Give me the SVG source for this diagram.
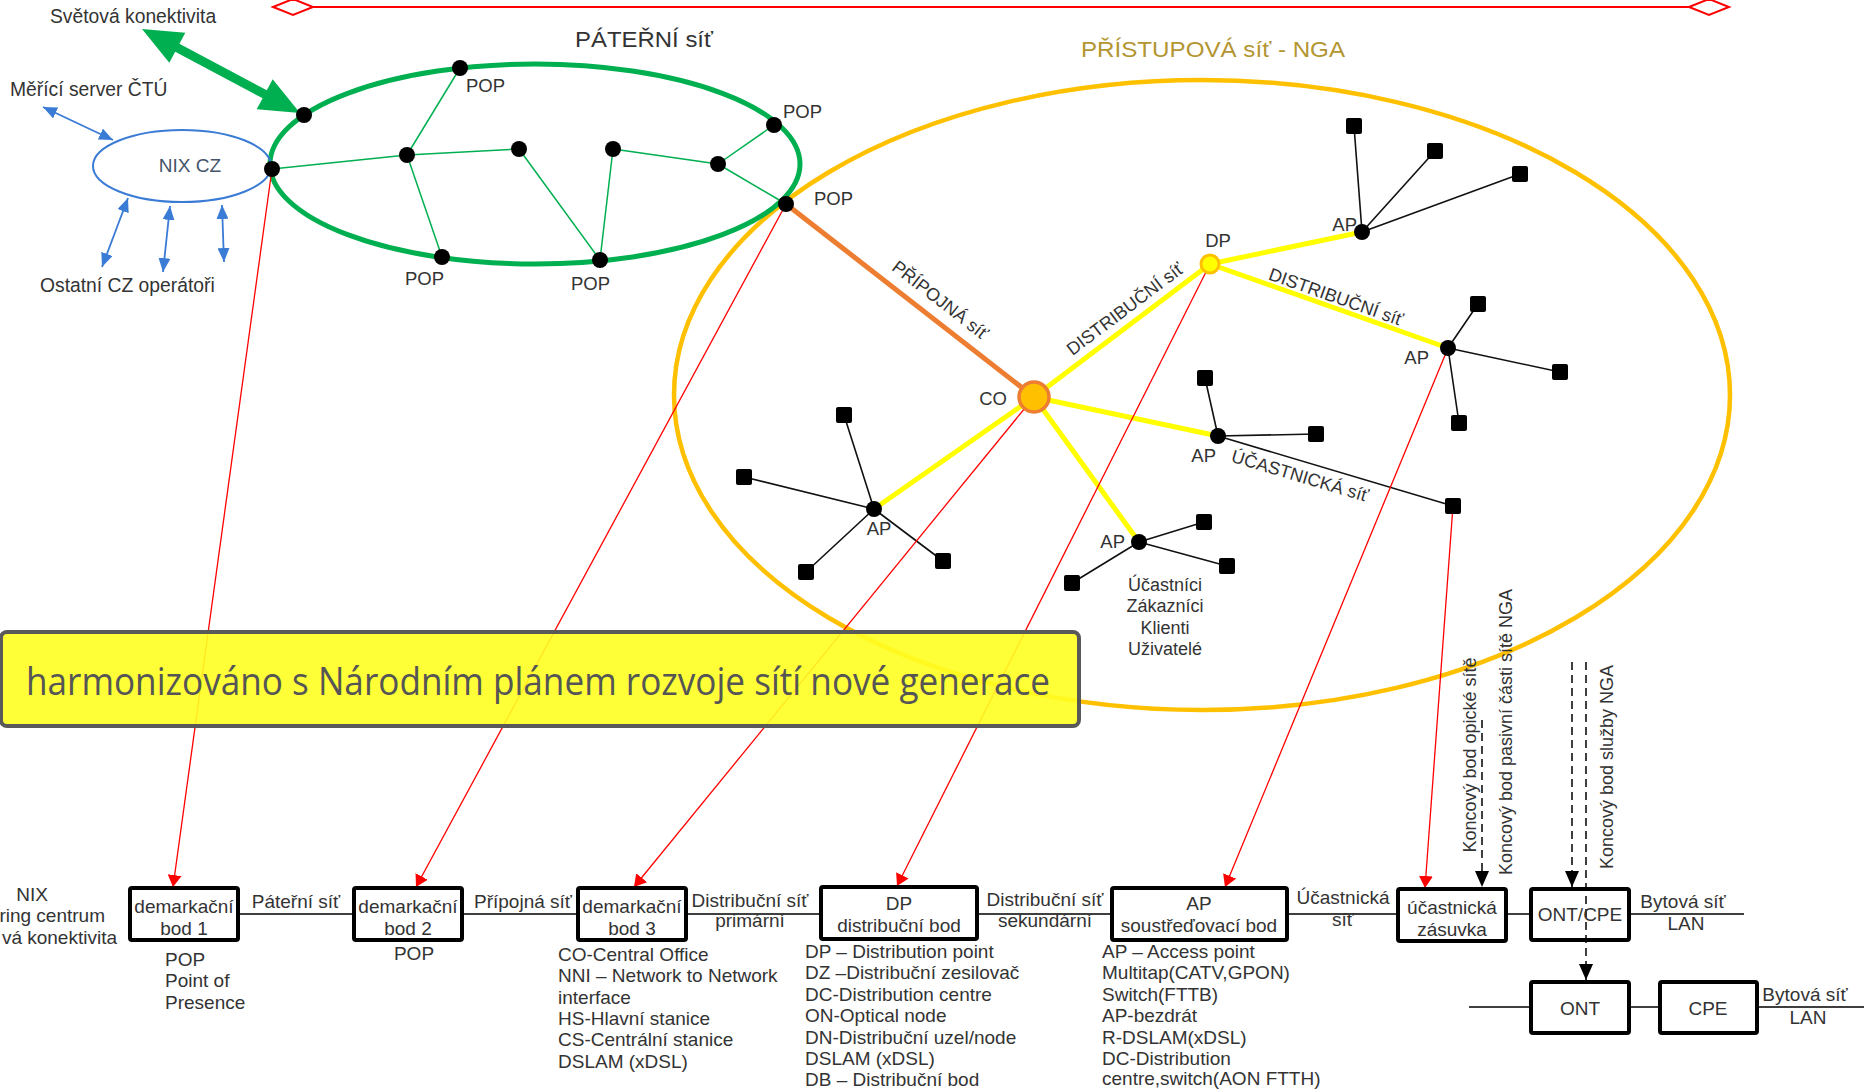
<svg xmlns="http://www.w3.org/2000/svg" width="1864" height="1091" viewBox="0 0 1864 1091">
<style>
text{font-family:"Liberation Sans",Arial,sans-serif;fill:#333;font-size:19px}
.c{text-anchor:middle}
.e{text-anchor:end}
.g{stroke:#00b050;stroke-width:1.5;fill:none}
.k{stroke:#111;stroke-width:1.6;fill:none}
.y{stroke:#ffff00;stroke-width:5;fill:none}
.r{stroke:#ff0000;stroke-width:1.3;fill:none;marker-end:url(#ra)}
.b{stroke:#3a7bd5;stroke-width:1.8;fill:none;marker-start:url(#ba);marker-end:url(#ba)}
.d{stroke:#000;stroke-width:1.5;stroke-dasharray:8 5;fill:none}
.n{fill:#000}
.box{fill:#fff;stroke:#000;stroke-width:4}
.ln{stroke:#000;stroke-width:1.5;fill:none}
.t{font-size:19.3px}
</style>
<defs>
<marker id="ra" viewBox="0 0 12 14" refX="12" refY="7" markerWidth="12" markerHeight="14" markerUnits="userSpaceOnUse" orient="auto" preserveAspectRatio="none"><path d="M0,0 L12,7 L0,14 z" fill="#ff0000"/></marker>
<marker id="ba" viewBox="0 0 14 12" refX="14" refY="6" markerWidth="14" markerHeight="12" markerUnits="userSpaceOnUse" orient="auto-start-reverse" preserveAspectRatio="none"><path d="M0,0 L14,6 L0,12 z" fill="#3a7bd5"/></marker>
<marker id="ka" viewBox="0 0 16 14" refX="16" refY="7" markerWidth="16" markerHeight="14" markerUnits="userSpaceOnUse" orient="auto" preserveAspectRatio="none"><path d="M0,0 L16,7 L0,14 z" fill="#000"/></marker>
</defs>
<rect width="1864" height="1091" fill="#fff"/>

<g id="top-range">
<line x1="312" y1="7" x2="1689" y2="7" stroke="#ff0000" stroke-width="2"/>
<polygon points="273,7 293,-1 313,7 293,15" fill="#fff" stroke="#ff0000" stroke-width="2"/>
<polygon points="1689,7 1709,-1 1729,7 1709,15" fill="#fff" stroke="#ff0000" stroke-width="2"/>
</g>

<g id="access-area">
<ellipse cx="1202" cy="395" rx="528" ry="315" fill="none" stroke="#ffc000" stroke-width="4.5"/>
<text x="1213" y="57" class="c" style="fill:#b39531;font-size:22px" textLength="264" lengthAdjust="spacingAndGlyphs">PŘÍSTUPOVÁ síť - NGA</text>
</g>
<g id="backbone-area">
<ellipse cx="535" cy="164" rx="265" ry="100" fill="none" stroke="#00b050" stroke-width="5"/>
<text x="644" y="47" class="c" style="font-size:22px" textLength="138" lengthAdjust="spacingAndGlyphs">PÁTEŘNÍ síť</text>
</g>
<g id="nix">
<ellipse cx="182" cy="166" rx="89" ry="36" fill="none" stroke="#3a7bd5" stroke-width="2"/>
<text x="190" y="172" class="c" style="fill:#44546a;font-size:19px">NIX CZ</text>
</g>

<g id="connectors">
<polygon points="142,29 169.3,62.8 175.2,51.8 262.6,98.2 256.7,109.2 300,113 272.7,79.2 266.8,90.2 179.4,43.8 185.3,32.8" fill="#00b050"/>
<line class="b" x1="43" y1="107" x2="113" y2="140"/>
<line class="b" x1="128" y1="198" x2="102" y2="267"/>
<line class="b" x1="170" y1="206" x2="163" y2="272"/>
<line class="b" x1="222" y1="205" x2="224" y2="262"/>
<polyline class="g" points="272,169 407,155 519,149"/>
<line class="g" x1="407" y1="155" x2="460" y2="68"/>
<line class="g" x1="407" y1="155" x2="442" y2="257"/>
<line class="g" x1="519" y1="149" x2="600" y2="260"/>
<line class="g" x1="613" y1="149" x2="600" y2="260"/>
<line class="g" x1="613" y1="149" x2="718" y2="164"/>
<line class="g" x1="718" y1="164" x2="774" y2="125"/>
<line class="g" x1="718" y1="164" x2="786" y2="204"/>
<line x1="786" y1="204" x2="1034" y2="397" stroke="#ed7d31" stroke-width="5"/>
<line class="y" x1="1034" y1="397" x2="1210" y2="264"/>
<line class="y" x1="1210" y1="264" x2="1362" y2="232"/>
<line class="y" x1="1210" y1="264" x2="1448" y2="348"/>
<line class="y" x1="1034" y1="397" x2="1218" y2="436"/>
<line class="y" x1="1034" y1="397" x2="874" y2="509"/>
<line class="y" x1="1034" y1="397" x2="1139" y2="542"/>
<path class="k" d="M1362,232 L1354,126 M1362,232 L1435,151 M1362,232 L1520,174"/>
<path class="k" d="M1448,348 L1478,304 M1448,348 L1560,372 M1448,348 L1459,423"/>
<path class="k" d="M1218,436 L1205,378 M1218,436 L1316,434 M1218,436 L1453,506"/>
<path class="k" d="M874,509 L844,415 M874,509 L744,477 M874,509 L806,572 M874,509 L943,561"/>
<path class="k" d="M1139,542 L1204,522 M1139,542 L1227,566 M1139,542 L1072,583"/>
<line class="r" x1="272" y1="169" x2="173" y2="887"/>
<line class="r" x1="786" y1="204" x2="416" y2="887"/>
<line class="r" x1="1034" y1="397" x2="634" y2="887"/>
<line class="r" x1="1210" y1="264" x2="897" y2="886"/>
<line class="r" x1="1448" y1="348" x2="1225" y2="887"/>
<line class="r" x1="1453" y1="506" x2="1425" y2="888"/>
<line class="d" x1="1482" y1="720" x2="1482" y2="887" marker-end="url(#ka)"/>
<line class="d" x1="1572" y1="662" x2="1572" y2="887" marker-end="url(#ka)"/>
<line class="d" x1="1586" y1="662" x2="1586" y2="980" marker-end="url(#ka)"/>
<path class="ln" d="M238,914 H354 M462,914 H578 M686,914 H821 M977,914 H1112 M1287,914 H1398 M1506,914 H1531 M1629,914 H1744"/>
<path class="ln" d="M1469,1007 H1531 M1629,1007 H1660 M1757,1007 H1864"/>
</g>

<g id="link-labels">
<text x="940" y="306" class="c" transform="rotate(37.9 940 300)" style="font-size:18px">PŘÍPOJNÁ  síť</text>
<text x="1125" y="315" class="c" transform="rotate(-37 1125 309)" style="font-size:18px">DISTRIBUČNÍ síť</text>
<text x="1336" y="303" class="c" transform="rotate(19.4 1336 297)" style="font-size:18px">DISTRIBUČNÍ síť</text>
<text x="1300" y="482" class="c" transform="rotate(16.6 1300 476)" style="font-size:18px">ÚČASTNICKÁ síť</text>
</g>

<g id="ext-labels">
<text x="50" y="23" class="t">Světová konektivita</text>
<text x="10" y="96" class="t">Měřící server ČTÚ</text>
<text x="40" y="292" class="t">Ostatní CZ operátoři</text>
</g>

<g id="backbone-nodes">
<circle class="n" cx="304" cy="115" r="8"/>
<circle class="n" cx="272" cy="169" r="8"/>
<circle class="n" cx="460" cy="68" r="8"/>
<circle class="n" cx="774" cy="125" r="8"/>
<circle class="n" cx="786" cy="204" r="8"/>
<circle class="n" cx="442" cy="257" r="8"/>
<circle class="n" cx="600" cy="260" r="8"/>
<circle class="n" cx="407" cy="155" r="8"/>
<circle class="n" cx="519" cy="149" r="8"/>
<circle class="n" cx="613" cy="149" r="8"/>
<circle class="n" cx="718" cy="164" r="8"/>
<text x="466" y="92" style="font-size:18.5px">POP</text>
<text x="783" y="118" style="font-size:18.5px">POP</text>
<text x="814" y="205" style="font-size:18.5px">POP</text>
<text x="405" y="285" style="font-size:18.5px">POP</text>
<text x="571" y="290" style="font-size:18.5px">POP</text>
</g>

<g id="co">
<circle cx="1034" cy="397" r="15" fill="#ffc000" stroke="#ed7d31" stroke-width="3.5"/>
<text x="1007" y="405" class="e" style="font-size:18.5px">CO</text>
</g>
<g id="dp">
<circle cx="1210" cy="264" r="9" fill="#ffff00" stroke="#ffc000" stroke-width="3"/>
<text x="1218" y="247" class="c" style="font-size:18.5px">DP</text>
</g>
<g id="ap1">
<circle class="n" cx="1362" cy="232" r="8"/>
<rect x="1346" y="118" width="16" height="16" rx="2"/>
<rect x="1427" y="143" width="16" height="16" rx="2"/>
<rect x="1512" y="166" width="16" height="16" rx="2"/>
<text x="1357" y="231" class="e" style="font-size:18.5px">AP</text>
</g>
<g id="ap2">
<circle class="n" cx="1448" cy="348" r="8"/>
<rect x="1470" y="296" width="16" height="16" rx="2"/>
<rect x="1552" y="364" width="16" height="16" rx="2"/>
<rect x="1451" y="415" width="16" height="16" rx="2"/>
<text x="1429" y="364" class="e" style="font-size:18.5px">AP</text>
</g>
<g id="ap3">
<circle class="n" cx="1218" cy="436" r="8"/>
<rect x="1197" y="370" width="16" height="16" rx="2"/>
<rect x="1308" y="426" width="16" height="16" rx="2"/>
<rect x="1445" y="498" width="16" height="16" rx="2"/>
<text x="1216" y="462" class="e" style="font-size:18.5px">AP</text>
</g>
<g id="ap4">
<circle class="n" cx="874" cy="509" r="8"/>
<rect x="836" y="407" width="16" height="16" rx="2"/>
<rect x="736" y="469" width="16" height="16" rx="2"/>
<rect x="798" y="564" width="16" height="16" rx="2"/>
<rect x="935" y="553" width="16" height="16" rx="2"/>
<text x="879" y="535" class="c" style="font-size:18.5px">AP</text>
</g>
<g id="ap5">
<circle class="n" cx="1139" cy="542" r="8"/>
<rect x="1196" y="514" width="16" height="16" rx="2"/>
<rect x="1219" y="558" width="16" height="16" rx="2"/>
<rect x="1064" y="575" width="16" height="16" rx="2"/>
<text x="1125" y="548" class="e" style="font-size:18.5px">AP</text>
</g>
<g id="users">
<text class="c" style="font-size:18px"><tspan x="1165" y="591">Účastníci</tspan><tspan x="1165" y="612">Zákazníci</tspan><tspan x="1165" y="634">Klienti</tspan><tspan x="1165" y="655">Uživatelé</tspan></text>
</g>

<g id="banner">
<rect x="1" y="632" width="1078" height="94" rx="6" fill="#ffff22" fill-opacity="0.9" stroke="#595959" stroke-width="4"/>
<text x="26" y="695" style="font-family:'Liberation Sans Narrow','Open Sans',sans-serif;font-size:39px;fill:#555" textLength="1024" lengthAdjust="spacingAndGlyphs">harmonizováno s Národním plánem rozvoje sítí nové generace</text>
</g>

<g id="terminal-labels">
<text x="0" y="0" class="c" transform="translate(1476 755) rotate(-90)" style="font-size:18px">Koncový bod opické sítě</text>
<text x="0" y="0" class="c" transform="translate(1512 732) rotate(-90)" style="font-size:18px">Koncový bod pasivní části sítě NGA</text>
<text x="0" y="0" class="c" transform="translate(1613 767) rotate(-90)" style="font-size:18px">Koncový bod služby NGA</text>
</g>

<g id="nix-label">
<text x="32" y="901" class="c">NIX</text>
<text x="105" y="922" class="e">ring centrum</text>
<text x="117" y="944" class="e">vá konektivita</text>
</g>
<g id="demarc1">
<rect class="box" x="130" y="888" width="108" height="52" rx="2"/>
<text class="c"><tspan x="184" y="913">demarkační</tspan><tspan x="184" y="935">bod 1</tspan></text>
<text><tspan x="165" y="966">POP</tspan><tspan x="165" y="987">Point of</tspan><tspan x="165" y="1009">Presence</tspan></text>
</g>
<text x="296" y="908" class="c">Páteřní síť</text>
<g id="demarc2">
<rect class="box" x="354" y="888" width="108" height="52" rx="2"/>
<text class="c"><tspan x="408" y="913">demarkační</tspan><tspan x="408" y="935">bod 2</tspan></text>
<text x="414" y="960" class="c">POP</text>
</g>
<text x="523" y="908" class="c">Přípojná síť</text>
<g id="demarc3">
<rect class="box" x="578" y="888" width="108" height="52" rx="2"/>
<text class="c"><tspan x="632" y="913">demarkační</tspan><tspan x="632" y="935">bod 3</tspan></text>
<text><tspan x="558" y="961">CO-Central Office</tspan><tspan x="558" y="982">NNI – Network to Network</tspan><tspan x="558" y="1004">interface</tspan><tspan x="558" y="1025">HS-Hlavní stanice</tspan><tspan x="558" y="1046">CS-Centrální stanice</tspan><tspan x="558" y="1068">DSLAM (xDSL)</tspan></text>
</g>
<text class="c"><tspan x="750" y="907">Distribuční síť</tspan><tspan x="750" y="927">primární</tspan></text>
<g id="dp-box">
<rect class="box" x="821" y="887" width="156" height="52" rx="2"/>
<text class="c"><tspan x="899" y="910">DP</tspan><tspan x="899" y="932">distribuční bod</tspan></text>
<text><tspan x="805" y="958">DP – Distribution point</tspan><tspan x="805" y="979">DZ –Distribuční zesilovač</tspan><tspan x="805" y="1001">DC-Distribution centre</tspan><tspan x="805" y="1022">ON-Optical node</tspan><tspan x="805" y="1044">DN-Distribuční uzel/node</tspan><tspan x="805" y="1065">DSLAM (xDSL)</tspan><tspan x="805" y="1086">DB – Distribuční bod</tspan></text>
</g>
<text class="c"><tspan x="1045" y="906">Distribuční síť</tspan><tspan x="1045" y="927">sekundární</tspan></text>
<g id="ap-box">
<rect class="box" x="1112" y="888" width="175" height="52" rx="2"/>
<text class="c"><tspan x="1199" y="910">AP</tspan><tspan x="1199" y="932">soustřeďovací  bod</tspan></text>
<text><tspan x="1102" y="958">AP – Access point</tspan><tspan x="1102" y="979">Multitap(CATV,GPON)</tspan><tspan x="1102" y="1001">Switch(FTTB)</tspan><tspan x="1102" y="1022">AP-bezdrát</tspan><tspan x="1102" y="1044">R-DSLAM(xDSL)</tspan><tspan x="1102" y="1065">DC-Distribution</tspan><tspan x="1102" y="1085">centre,switch(AON FTTH)</tspan></text>
</g>
<text class="c"><tspan x="1343" y="904">Účastnická</tspan><tspan x="1343" y="926">síť</tspan></text>
<g id="socket">
<rect class="box" x="1398" y="889" width="108" height="52" rx="2"/>
<text class="c"><tspan x="1452" y="914">účastnická</tspan><tspan x="1452" y="936">zásuvka</tspan></text>
</g>
<g id="ont-cpe">
<rect class="box" x="1531" y="889" width="98" height="51" rx="2" fill-opacity="0"/>
<text x="1580" y="921" class="c">ONT/CPE</text>
</g>
<text class="c"><tspan x="1683" y="908">Bytová síť</tspan><tspan x="1686" y="930">LAN</tspan></text>
<g id="ont">
<rect class="box" x="1531" y="982" width="98" height="51" rx="2"/>
<text x="1580" y="1015" class="c">ONT</text>
</g>
<g id="cpe">
<rect class="box" x="1660" y="982" width="97" height="51" rx="2"/>
<text x="1708" y="1015" class="c">CPE</text>
</g>
<text class="c"><tspan x="1805" y="1001">Bytová síť</tspan><tspan x="1808" y="1024">LAN</tspan></text>
</svg>
